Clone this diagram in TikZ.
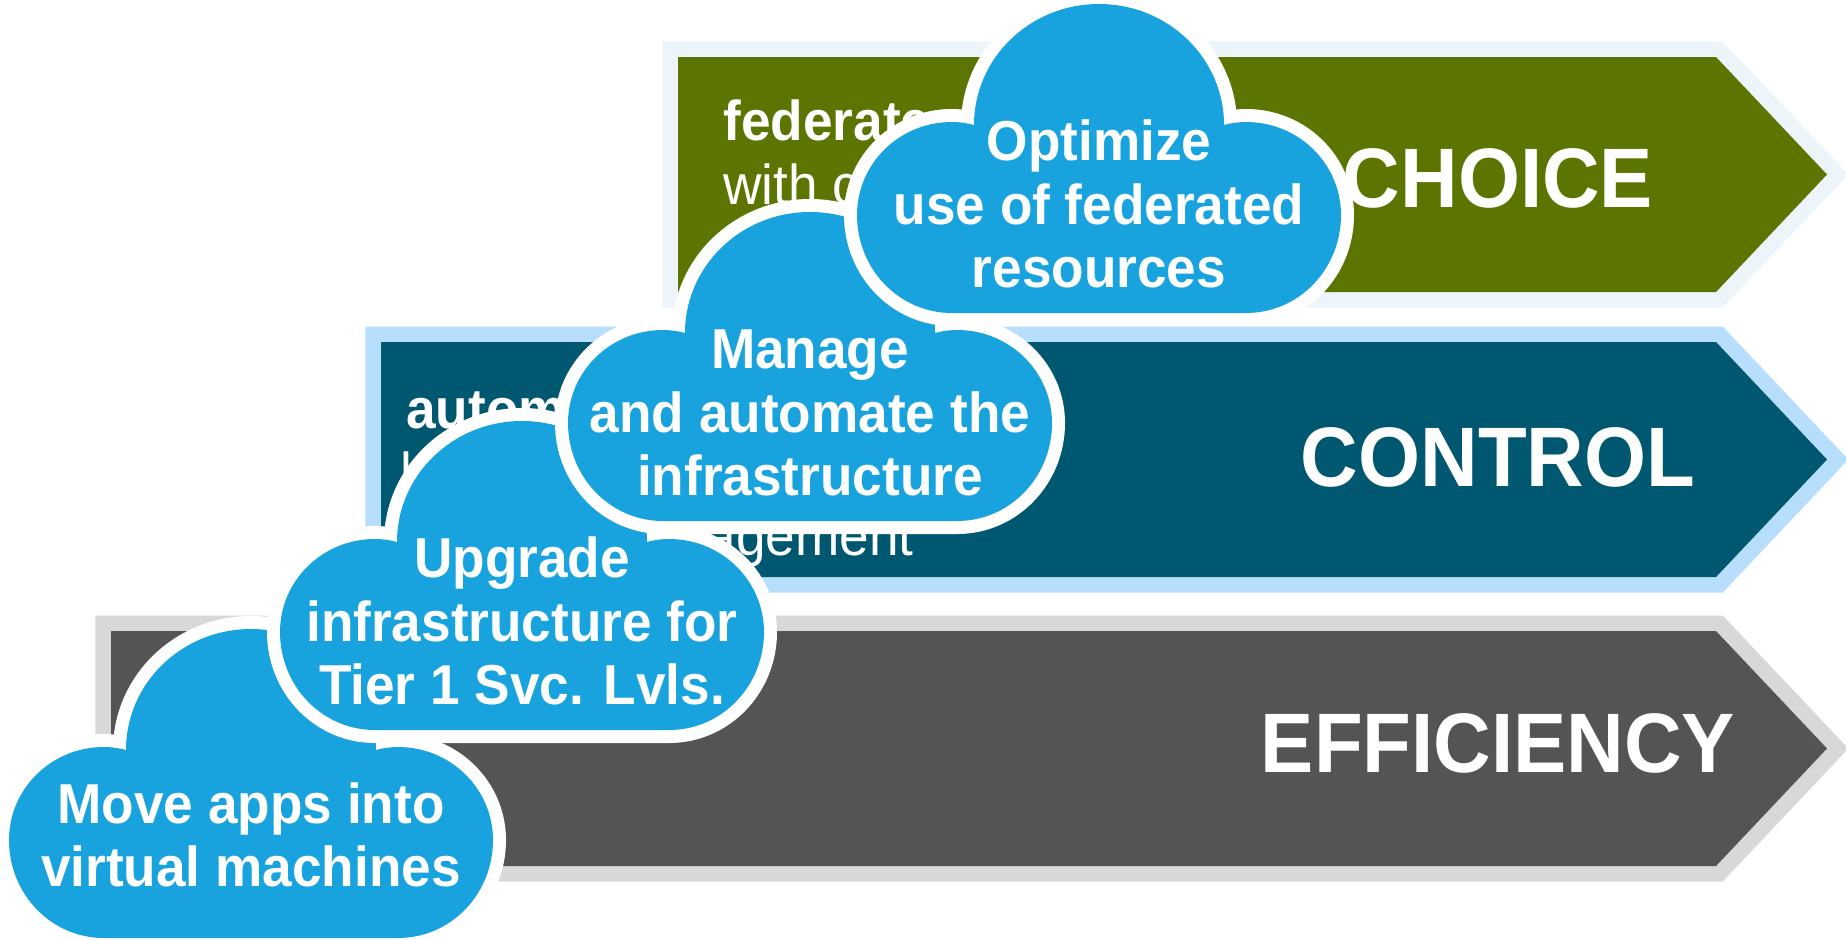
\documentclass[tikz,border=0pt]{standalone}
\usepackage{fontspec}
\setmainfont{Liberation Sans}[FakeStretch=0.945]
\definecolor{cloudblue}{RGB}{25,163,222}
\definecolor{choicegreen}{RGB}{91,117,0}
\definecolor{choicepale}{RGB}{237,245,251}
\definecolor{controlteal}{RGB}{0,88,112}
\definecolor{controlpale}{RGB}{183,222,253}
\definecolor{efficiencygrey}{RGB}{84,84,84}
\definecolor{efficiencypale}{RGB}{216,216,216}
\tikzstyle{cloudshape}=[fill=cloudblue, preaction={draw=white, line width=0.26cm}]
\tikzstyle{cloudtext}=[text=white, align=center, font=\fontsize{16}{18.05}\selectfont\bfseries]
\tikzstyle{levelname}=[text=white, font=\fontsize{24}{26}\selectfont\bfseries]
\tikzstyle{levelbold}=[text=white, anchor=base west, font=\fontsize{16}{18.05}\selectfont\bfseries]
\tikzstyle{levelthin}=[text=white, anchor=base west, font=\fontsize{16}{18.05}\selectfont]
\newcommand{\cloudat}[2]{
	\path[cloudshape, shift={(#1,#2)}] (-125,121)
		.. controls (-125,54) and (-69,0) .. (0,0)
		.. controls (69,0) and (125,54) .. (125,121)
		.. controls (132,119) and (140,118) .. (147,118)
		.. controls (200,118) and (242,160) .. (242,211)
		.. controls (242,265) and (200,309) .. (147,309)
		-- (-147,309)
		.. controls (-200,309) and (-242,265) .. (-242,211)
		.. controls (-242,160) and (-200,118) .. (-147,118)
		.. controls (-140,118) and (-132,119) .. (-125,121) -- cycle;
}
\newcommand{\chevronat}[4]{
	\path[fill=#3, preaction={draw=#4, line width=0.31cm}]
		(#1,#2) -- (1716,#2) -- (1827,#2+117.5) -- (1716,#2+235) -- (#1,#2+235) -- cycle;
}

\begin{document}
\begin{tikzpicture}[x=0.01cm, y=-0.01cm]
		   \useasboundingbox (0,0) rectangle (1846,939);
		   \begin{scope}
			   \chevronat{678}{57}{choicegreen}{choicepale}
			   \chevronat{381}{342}{controlteal}{controlpale}
			   \chevronat{111}{631}{efficiencygrey}{efficiencypale}
		   \end{scope}
		   \begin{scope}
			   \node (choice) at (1498,178)[levelname] {CHOICE};
			   \node (control) at (1498,457)[levelname] {CONTROL};
			   \node (efficiency) at (1498,743)[levelname] {EFFICIENCY};
			   \node (federate) at (711,140)[levelbold] {federate};
			   \node (with) at (711,204)[levelthin] {with c};
			   \node (autom) at (394,428)[levelbold] {autom};
			   \node (second) at (388,492)[levelthin] {l};
			   \node (gement) at (926,555)[levelthin, anchor=base east] {agement};
		   \end{scope}
		   \begin{scope}
			   \cloudat{251}{629}
			   \cloudat{522}{421}
			   \cloudat{810}{212}
			   \cloudat{1099}{4}
		   \end{scope}
		   \begin{scope}
			   \node (move) at (251,835)[cloudtext] {Move apps into\\virtual machines};
			   \node (upgrade) at (522,621)[cloudtext] {Upgrade\\infrastructure for\\Tier 1 Svc. Lvls.};
			   \node (manage) at (810,413)[cloudtext] {Manage\\and automate the\\infrastructure};
			   \node (optimize) at (1099,204)[cloudtext] {Optimize\\use of federated\\resources};
		   \end{scope}
	   \end{tikzpicture}
\end{document}
